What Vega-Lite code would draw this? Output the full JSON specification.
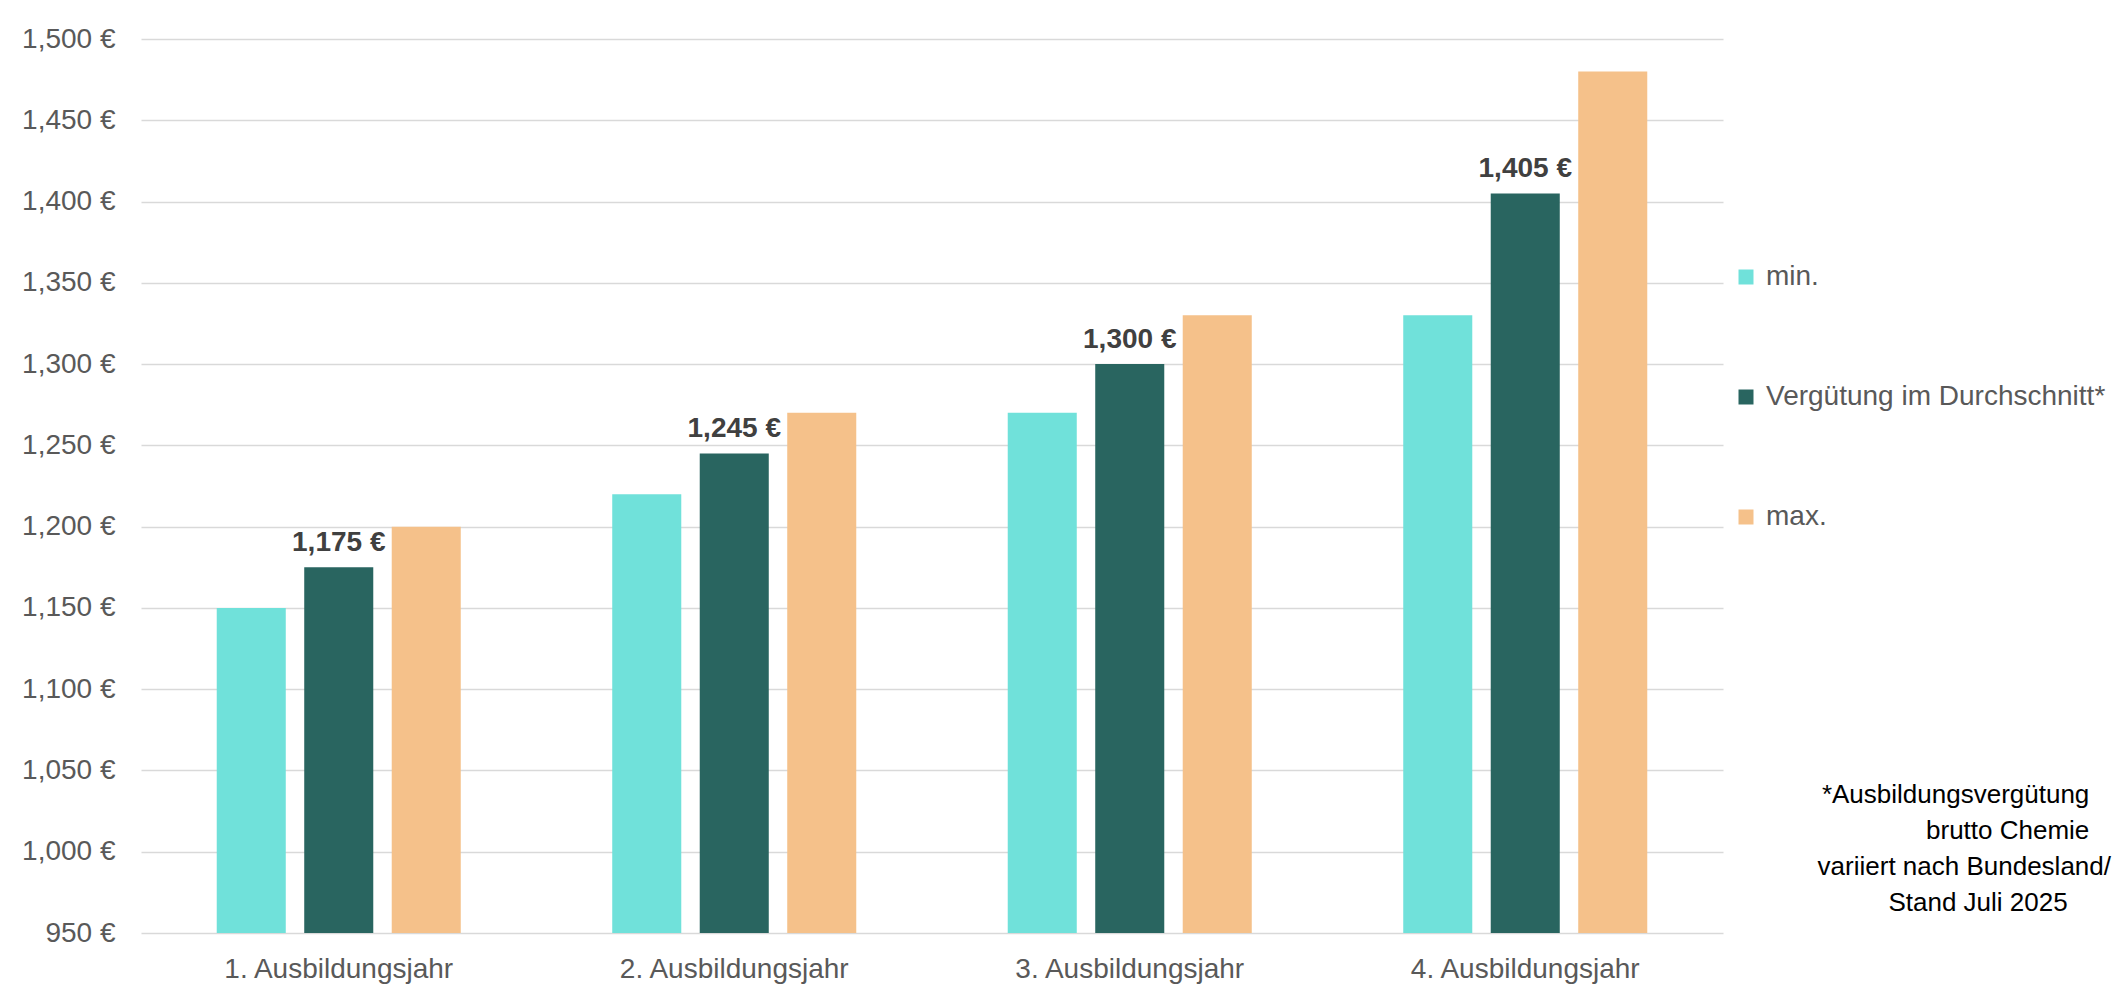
{
  "$schema": "https://vega.github.io/schema/vega-lite/v6.json",
  "width": 1582,
  "height": 894,
  "autosize": {"type": "none"},
  "padding": {"left": 141, "top": 39, "right": 397, "bottom": 74},
  "background": "white",
  "config": {
    "locale": {"number": {"decimal": ".", "thousands": ",", "grouping": [3], "currency": ["", " €"]}},
    "view": {"stroke": null},
    "font": "Liberation Sans"
  },
  "data": {
    "values": [
      {"jahr": "1. Ausbildungsjahr", "serie": "min.", "wert": 1150},
      {"jahr": "1. Ausbildungsjahr", "serie": "Vergütung im Durchschnitt*", "wert": 1175},
      {"jahr": "1. Ausbildungsjahr", "serie": "max.", "wert": 1200},
      {"jahr": "2. Ausbildungsjahr", "serie": "min.", "wert": 1220},
      {"jahr": "2. Ausbildungsjahr", "serie": "Vergütung im Durchschnitt*", "wert": 1245},
      {"jahr": "2. Ausbildungsjahr", "serie": "max.", "wert": 1270},
      {"jahr": "3. Ausbildungsjahr", "serie": "min.", "wert": 1270},
      {"jahr": "3. Ausbildungsjahr", "serie": "Vergütung im Durchschnitt*", "wert": 1300},
      {"jahr": "3. Ausbildungsjahr", "serie": "max.", "wert": 1330},
      {"jahr": "4. Ausbildungsjahr", "serie": "min.", "wert": 1330},
      {"jahr": "4. Ausbildungsjahr", "serie": "Vergütung im Durchschnitt*", "wert": 1405},
      {"jahr": "4. Ausbildungsjahr", "serie": "max.", "wert": 1480}
    ]
  },
  "title": {
    "text": ["*Ausbildungsvergütung\u00a0\u00a0\u00a0\u200b", "brutto Chemie\u00a0\u00a0\u00a0\u200b", "variiert nach Bundesland/", "Stand Juli 2025\u00a0\u00a0\u00a0\u00a0\u00a0\u00a0\u200b"],
    "orient": "bottom",
    "anchor": "end",
    "frame": "bounds",
    "align": "right",
    "font": "Liberation Sans",
    "fontSize": 26,
    "fontWeight": "normal",
    "color": "#000000",
    "lineHeight": 36,
    "offset": 0,
    "dx": 5,
    "dy": -201
  },
  "encoding": {
    "x": {
      "field": "jahr",
      "type": "nominal",
      "sort": null,
      "scale": {"paddingInner": 0.383, "paddingOuter": 0.1915},
      "axis": {
        "title": null,
        "labelAngle": 0,
        "labelFontSize": 28,
        "labelColor": "#595959",
        "labelFont": "Liberation Sans",
        "labelPadding": 22,
        "labelLimit": 500,
        "ticks": false,
        "domain": false,
        "grid": false
      }
    },
    "xOffset": {
      "field": "serie",
      "type": "nominal",
      "sort": ["min.", "Vergütung im Durchschnitt*", "max."],
      "scale": {"paddingInner": 0.211, "paddingOuter": 0}
    }
  },
  "layer": [
    {
      "mark": {"type": "bar"},
      "encoding": {
        "y": {
          "field": "wert",
          "type": "quantitative",
          "scale": {"domain": [950, 1500], "nice": false, "zero": false},
          "axis": {
            "title": null,
            "values": [950, 1000, 1050, 1100, 1150, 1200, 1250, 1300, 1350, 1400, 1450, 1500],
            "format": "$,.0f",
            "labelFontSize": 28,
            "labelColor": "#595959",
            "labelFont": "Liberation Sans",
            "labelPadding": 26,
            "ticks": false,
            "domain": false,
            "grid": true,
            "gridColor": "#d9d9d9",
            "gridWidth": 1.5
          }
        },
        "y2": {"datum": 950},
        "color": {
          "field": "serie",
          "type": "nominal",
          "sort": ["min.", "Vergütung im Durchschnitt*", "max."],
          "scale": {"domain": ["min.", "Vergütung im Durchschnitt*", "max."], "range": ["#70E1DA", "#296560", "#F5C18A"]},
          "legend": {
            "title": null,
            "orient": "none",
            "legendX": 1591,
            "legendY": 224,
            "padding": 0,
            "direction": "vertical",
            "symbolType": "square",
            "symbolSize": 225,
            "symbolStrokeWidth": 0,
            "labelFontSize": 28,
            "labelColor": "#595959",
            "labelFont": "Liberation Sans",
            "labelOffset": 6,
            "rowPadding": 92,
            "labelLimit": 500
          }
        }
      }
    },
    {
      "transform": [{"filter": "datum.serie == 'Vergütung im Durchschnitt*'"}],
      "mark": {"type": "text", "baseline": "alphabetic", "dy": -16, "fontSize": 28, "fontWeight": "bold", "color": "#404040", "font": "Liberation Sans"},
      "encoding": {
        "y": {"field": "wert", "type": "quantitative"},
        "text": {"field": "wert", "type": "quantitative", "format": "$,.0f"}
      }
    }
  ]
}
